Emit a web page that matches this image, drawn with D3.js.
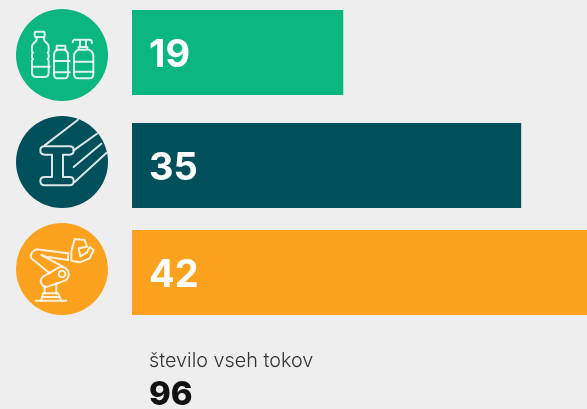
<!DOCTYPE html>
<html>
<head>
<meta charset="utf-8">
<script src="https://cdn.jsdelivr.net/npm/d3@7"></script>
<style>
  html, body { margin: 0; padding: 0; background: #eeeeee; overflow: hidden; }
  svg { filter: blur(0.4px); }
  text { font-family: Inter, "Noto Sans", sans-serif; }
</style>
</head>
<body>
<div id="chart"></div>
<script>
const categories = ['embalaža', 'kovine', 'stroji'];
const values = [19, 35, 42];
const colors = ['#0bb681', '#00505b', '#fca21f'];
const totalLabel = 'število vseh tokov';
const totalValue = 96;

// ikone, risane v koordinatah okoli središča kroga (merilo 3x)
const icons = [
    // steklenice
    [
        'M-78,-70 h22 q4,0 4,4 v8 q0,4 -4,4 h-22 q-4,0 -4,-4 v-8 q0,-4 4,-4 Z',
        'M-76,-54 v8 q-2,6 -10,12 q-4,4 -4,10 v12 q0,3 3,5 q-3,3 -3,6 v8 q0,3 3,5 q-3,3 -3,6 v34 q0,14 12,14 h26 q12,0 12,-14 v-34 q0,-3 -3,-6 q3,-2 3,-5 v-8 q0,-3 -3,-6 q3,-2 3,-5 v-12 q0,-6 -4,-10 q-8,-6 -10,-12 v-8',
        'M-90,35 h53',
        'M-16,-28 h26 v12 h-26 Z',
        'M-14,-16 q-10,6 -10,14 v58 q0,14 10,14 h22 q10,0 10,-14 v-58 q0,-8 -10,-14',
        'M-24,18 h47 M-24,52 h47',
        'M38,-46 h44 q8,0 8,10 M38,-46 h-2 q-4,4 -4,8 M54,-46 v22 h18 v-22 M50,-24 h26 v8 h-26 Z',
        'M50,-16 q-14,6 -14,20 v52 q0,14 12,14 h34 q12,0 12,-14 v-52 q0,-14 -14,-20',
        'M36,20 h58 M36,50 h58'
    ],
    // jeklen nosilec
    [
        'M-52,-47 h75 q12,0 12,12 q0,13 -12,13 h-20 v67 h20 q12,0 12,12 q0,13 -12,13 h-75 q-13,0 -13,-13 q0,-12 13,-12 h22 v-67 h-22 q-13,0 -13,-13 q0,-12 13,-12 Z',
        'M-52,-50 L48,-127',
        'M35,-35 L108,-87',
        'M35,15 L118,-55',
        'M38,60 L133,-27'
    ],
    // robotska roka
    [
        'M-79,95 H13',
        'M-62,95 L-57,73 H-12 L-2,95',
        'M-60,84 H-8',
        'M-52,53 V73 M-17,43 V73',
        'M-9,-5 L-57,23 A17,17 0 0 0 -43,53 L9,35 A22,22 0 0 0 -9,-5 Z',
        'M-10,15 a10,10 0 1,0 20,0 a10,10 0 1,0 -20,0',
        'M-37,13 L-92,-32 Q-98,-50 -77,-59 L18,-47',
        'M3,-7 L-62,-42 L-47,-37 L18,-27',
        'M18,-47 V-27',
        'M28,-52 L38,-90 L68,-87 L75,-67 L50,-62 L55,-38 L75,-50 L83,-66 L95,-57 L83,-32 L53,-20 L28,-25 Z'
    ]
];

const iconCx = 62;
const iconCy = [55, 162, 269];
const iconR = 46;

const width = 587;
const height = 409;

const svg = d3.select('#chart')
    .append('svg')
    .attr('width', width)
    .attr('height', height);

// Escalas
const x = d3.scaleLinear().domain([0, 42]).range([132, 599]);
const y = d3.scaleOrdinal().domain(categories).range([10, 123, 230]);
const barH = 85;

// Barras
svg.selectAll('rect.bar')
    .data(categories)
    .join('rect')
    .attr('class', 'bar')
    .attr('x', x(0))
    .attr('y', d => y(d))
    .attr('width', (d, i) => x(values[i]) - x(0))
    .attr('height', barH)
    .attr('fill', (d, i) => colors[i]);

svg.selectAll('text.val')
    .data(categories)
    .join('text')
    .attr('class', 'val')
    .attr('x', 149)
    .attr('y', d => y(d) + barH / 2 + 14)
    .attr('fill', '#fff')
    .attr('font-size', '38px')
    .attr('font-weight', 700)
    .text((d, i) => values[i]);

// Iconos
const iconG = svg.selectAll('g.icon')
    .data(categories)
    .join('g')
    .attr('class', 'icon')
    .attr('transform', (d, i) => `translate(${iconCx},${iconCy[i]})`);

iconG.append('circle')
    .attr('r', iconR)
    .attr('fill', (d, i) => colors[i]);

iconG.append('clipPath')
    .attr('id', (d, i) => `clip-${i}`)
    .append('circle')
    .attr('r', iconR);

iconG.append('g')
    .attr('clip-path', (d, i) => `url(#clip-${i})`)
    .append('g')
    .attr('transform', 'scale(0.3333)')
    .selectAll('path')
    .data((d, i) => icons[i])
    .join('path')
    .attr('d', d => d)
    .attr('fill', 'none')
    .attr('stroke', '#ffffff')
    .attr('stroke-opacity', 0.85)
    .attr('stroke-width', 6)
    .attr('stroke-linecap', 'round')
    .attr('stroke-linejoin', 'round');

// Total
svg.append('text')
    .attr('x', 149)
    .attr('y', 367)
    .attr('fill', '#333')
    .attr('font-size', '19.8px')
    .attr('font-weight', 300)
    .text(totalLabel);

svg.append('text')
    .attr('x', 149)
    .attr('y', 405)
    .attr('fill', '#111')
    .attr('font-size', '33px')
    .attr('font-weight', 800)
    .text(totalValue);
</script>
</body>
</html>
